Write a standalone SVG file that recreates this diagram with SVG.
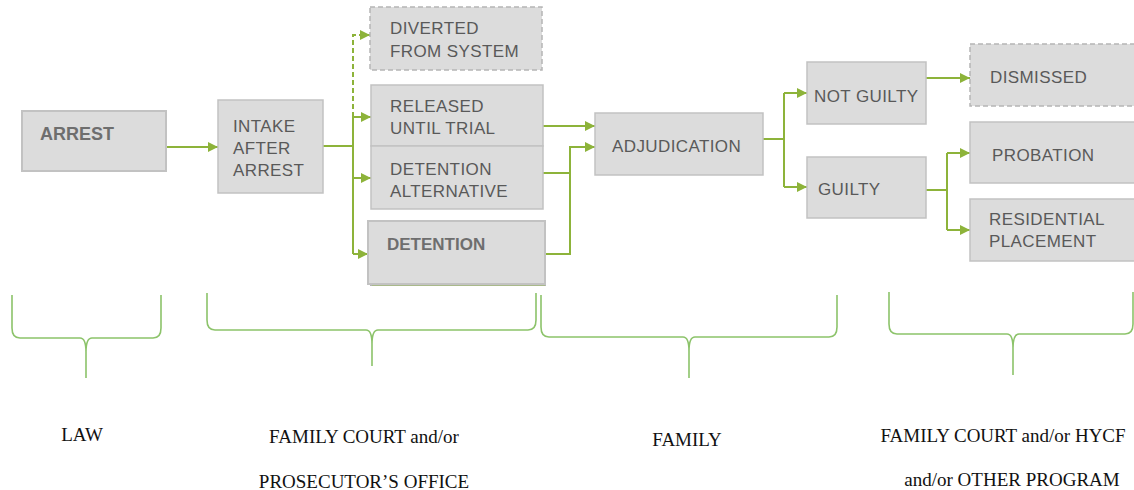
<svg xmlns="http://www.w3.org/2000/svg" width="1134" height="490" viewBox="0 0 1134 490">
<defs>
<marker id="ah" markerUnits="userSpaceOnUse" markerWidth="11" markerHeight="11" refX="10" refY="5" orient="auto">
<path d="M0,0 L10,5 L0,10 z" fill="#8db33a"/>
</marker>
<style>
.box{fill:#dcdcdc;stroke:#c2c2c2;stroke-width:1.5}
.dbox{fill:#dcdcdc;stroke:#b5b5b5;stroke-width:1.5;stroke-dasharray:5 3}
.t{font-family:"Liberation Sans",Arial,sans-serif;font-size:17px;fill:#595959;letter-spacing:0.4px}
.tb{font-family:"Liberation Sans",Arial,sans-serif;font-size:17px;font-weight:bold;fill:#6e6e6e}
.c{fill:none;stroke:#8db33a;stroke-width:2}
.cd{fill:none;stroke:#8db33a;stroke-width:2;stroke-dasharray:5 3}
.br{fill:none;stroke:#8cc36a;stroke-width:1.6}
.lab{font-family:"Liberation Serif","Times New Roman",serif;font-size:19px;fill:#111;text-anchor:middle}
</style>
</defs>
<rect width="1134" height="490" fill="#fff"/>

<g id="connectors">
<path class="c" d="M166,147 H218" marker-end="url(#ah)"/>
<path class="c" d="M323,146 H353 M353,117 V254"/>
<path class="cd" d="M353,117 V35 H370" marker-end="url(#ah)"/>
<path class="c" d="M353,117 H371" marker-end="url(#ah)"/>
<path class="c" d="M353,178 H371" marker-end="url(#ah)"/>
<path class="c" d="M353,254 H368" marker-end="url(#ah)"/>
<path class="c" d="M543,126 H595" marker-end="url(#ah)"/>
<path class="c" d="M543,173 H570 M545,254 H570 V147 H595" marker-end="url(#ah)"/>
<path class="c" d="M763,139 H784 M784,93 V187"/>
<path class="c" d="M784,93 H807" marker-end="url(#ah)"/>
<path class="c" d="M784,187 H807" marker-end="url(#ah)"/>
<path class="c" d="M926,78 H970" marker-end="url(#ah)"/>
<path class="c" d="M926,190 H947 M947,153 V230"/>
<path class="c" d="M947,153 H970" marker-end="url(#ah)"/>
<path class="c" d="M947,230 H970" marker-end="url(#ah)"/>
</g>

<g id="arrest">
<rect class="box" x="22" y="111" width="144" height="60" style="stroke-width:2"/>
<text class="tb" x="40" y="140" style="font-size:18px">ARREST</text>
</g>
<g id="intake">
<rect class="box" x="218" y="100" width="105" height="93"/>
<text class="t" x="233" y="132">INTAKE</text>
<text class="t" x="233" y="154">AFTER</text>
<text class="t" x="233" y="176">ARREST</text>
</g>
<g id="diverted">
<rect class="dbox" x="370" y="7" width="172" height="63"/>
<text class="t" x="390" y="34">DIVERTED</text>
<text class="t" x="390" y="57">FROM SYSTEM</text>
</g>
<g id="released">
<rect class="box" x="371" y="85" width="172" height="61"/>
<text class="t" x="390" y="112">RELEASED</text>
<text class="t" x="390" y="134">UNTIL TRIAL</text>
</g>
<g id="detention-alternative">
<rect class="box" x="371" y="146" width="172" height="63"/>
<text class="t" x="390" y="175">DETENTION</text>
<text class="t" x="390" y="197">ALTERNATIVE</text>
</g>
<g id="detention">
<rect x="370" y="223" width="176" height="63" fill="#b3b3b3"/>
<line x1="372" y1="285.5" x2="545" y2="285.5" stroke="#a9b98a" stroke-width="1"/>
<rect class="box" x="368" y="221" width="177" height="63" style="stroke-width:2"/>
<text class="tb" x="387" y="250">DETENTION</text>
</g>
<g id="adjudication">
<rect class="box" x="595" y="113" width="168" height="62"/>
<text class="t" x="612" y="152">ADJUDICATION</text>
</g>
<g id="not-guilty">
<rect class="box" x="807" y="62" width="119" height="62"/>
<text class="t" x="814" y="102">NOT GUILTY</text>
</g>
<g id="guilty">
<rect class="box" x="807" y="157" width="119" height="61"/>
<text class="t" x="818" y="195">GUILTY</text>
</g>
<g id="dismissed">
<rect class="dbox" x="970" y="44" width="170" height="62"/>
<text class="t" x="990" y="83">DISMISSED</text>
</g>
<g id="probation">
<rect class="box" x="970" y="122" width="170" height="61"/>
<text class="t" x="992" y="161">PROBATION</text>
</g>
<g id="residential">
<rect class="box" x="970" y="199" width="170" height="62"/>
<text class="t" x="989" y="225">RESIDENTIAL</text>
<text class="t" x="989" y="247">PLACEMENT</text>
</g>

<g id="braces">
<path class="br" d="M12,295 V328 Q12,338 20,338 H80 Q86,338 86,352 V378 M86,352 Q86,338 92,338 H153 Q161,338 161,328 V295"/>
<path class="br" d="M207,293 V320 Q207,330 215,330 H366 Q372,330 372,344 V366 M372,344 Q372,330 378,330 H528 Q536,330 536,320 V293"/>
<path class="br" d="M541,295 V327 Q541,337 549,337 H683 Q689,337 689,351 V378 M689,351 Q689,337 695,337 H829 Q837,337 837,327 V295"/>
<path class="br" d="M889,292 V324 Q889,334 897,334 H1007 Q1013,334 1013,348 V375 M1013,348 Q1013,334 1019,334 H1125 Q1133,334 1133,324 V292"/>
</g>

<g id="labels">
<text class="lab" x="82" y="441">LAW</text>
<text class="lab" x="364" y="443">FAMILY COURT and/or</text>
<text class="lab" x="364" y="488">PROSECUTOR’S OFFICE</text>
<text class="lab" x="687" y="446">FAMILY</text>
<text class="lab" x="1003" y="442">FAMILY COURT and/or HYCF</text>
<text class="lab" x="1012" y="486">and/or OTHER PROGRAM</text>
</g>
</svg>
